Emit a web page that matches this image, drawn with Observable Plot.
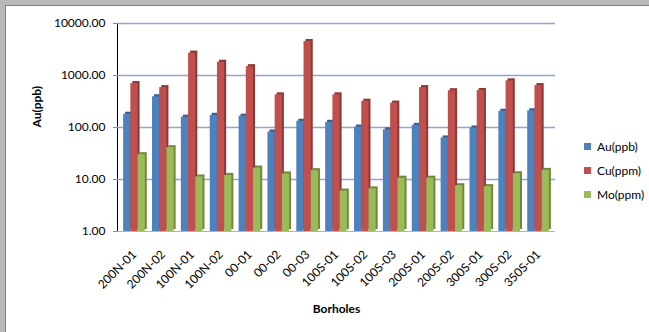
<!DOCTYPE html>
<html>
<head>
<meta charset="utf-8">
<script src="https://cdn.jsdelivr.net/npm/d3@7"></script>
<script src="https://cdn.jsdelivr.net/npm/@observablehq/plot@0.6"></script>
<style>
  html, body { margin: 0; padding: 0; }
  #wrap { position: relative; width: 649px; height: 332px; background: #b9b9b9; overflow: hidden; font-family: Lato, sans-serif; }
  #panel { position: absolute; left: 5px; top: 5px; right: 0; bottom: 0; background: #fff; border-left: 1px solid #7f7f7f; border-top: 1px solid #7f7f7f; }
  #chart { position: absolute; left: 0; top: 0; }
  #legend { position: absolute; left: 584px; top: 135px; }
  #chart g[aria-label="y-axis tick"], #chart g[aria-label="frame"] { stroke: #8a8a8a; }
</style>
</head>
<body>
<div id="wrap"><div id="panel"></div><div id="chart"></div><div id="legend"></div></div>
<script>
const boreholes = ["200N-01","200N-02","100N-01","100N-02","00-01","00-02","00-03","100S-01","100S-02","100S-03","200S-01","200S-02","300S-01","300S-02","350S-01"];
const seriesNames = ["Au(ppb)", "Cu(ppm)", "Mo(ppm)"];
const auPpb = [180, 390, 158, 172, 165, 82, 132, 126, 102, 90, 110, 63, 98, 205, 210];
const cuPpm = [700, 585, 2700, 1800, 1480, 425, 4500, 425, 320, 295, 585, 510, 515, 790, 640];
const moPpm = [30, 41, 11.2, 12, 16.6, 12.8, 14.8, 6.0, 6.6, 10.6, 10.6, 7.6, 7.3, 12.9, 15];
const yTicks = [1, 10, 100, 1000, 10000];

const colors = ["#4F81BD", "#C0504D", "#9BBB59"];
const sideColors = ["#385D8A", "#8C3836", "#71893F"];

const values = [auPpb, cuPpm, moPpm];
const rows = [];
boreholes.forEach((b, i) => {
  seriesNames.forEach((s, j) => rows.push({borehole: b, series: s, key: b + "|" + s, value: values[j][i], side: sideColors[j]}));
});
const xDomain = [];
boreholes.forEach((b, i) => {
  seriesNames.forEach(s => xDomain.push(b + "|" + s));
  if (i < boreholes.length - 1) xDomain.push(b + "|gap");
});

const chart = Plot.plot({
  width: 649,
  height: 332,
  marginLeft: 117,
  marginRight: 94,
  marginTop: 23,
  marginBottom: 101,
  style: {fontFamily: "Lato, sans-serif", fontSize: "12px", color: "#000", background: "transparent"},
  x: {domain: xDomain, round: false, paddingInner: 0, paddingOuter: 0.85, ticks: boreholes.map(b => b + "|Cu(ppm)"), tickFormat: d => d.split("|")[0], tickRotate: -45, tickSize: 0, tickPadding: 21, label: null},
  y: {type: "log", domain: [1, 10000], ticks: yTicks, tickFormat: d3.format(".2f"), tickSize: 4, tickPadding: 8, line: true, label: null},
  color: {domain: seriesNames, range: colors},
  marks: [
    Plot.ruleY(yTicks.slice(1), {stroke: "#8FA5D6", strokeWidth: 1.6}),
    Plot.ruleY([1], {stroke: "#A9B4C8", strokeWidth: 1.2}),
    Plot.barY(rows, {x: "key", y1: 1, y2: "value", fill: "side", dx: 2, dy: -2}),
    Plot.barY(rows, {x: "key", y1: 1, y2: "value", fill: "series"}),
    Plot.text(["Au(ppb)"], {frameAnchor: "left", dx: -80, rotate: -90, fontWeight: "bold", fontSize: 12}),
    Plot.text(["Borholes"], {frameAnchor: "bottom", dy: 81, fontWeight: "bold", fontSize: 12})
  ]
});
document.getElementById("chart").appendChild(chart);

const legend = Plot.legend({
  color: {domain: seriesNames, range: colors},
  columns: 1,
  swatchSize: 7,
  style: {fontFamily: "Lato, sans-serif", fontSize: "12px", lineHeight: "23px", color: "#000"}
});
document.getElementById("legend").appendChild(legend);
</script>
</body>
</html>
